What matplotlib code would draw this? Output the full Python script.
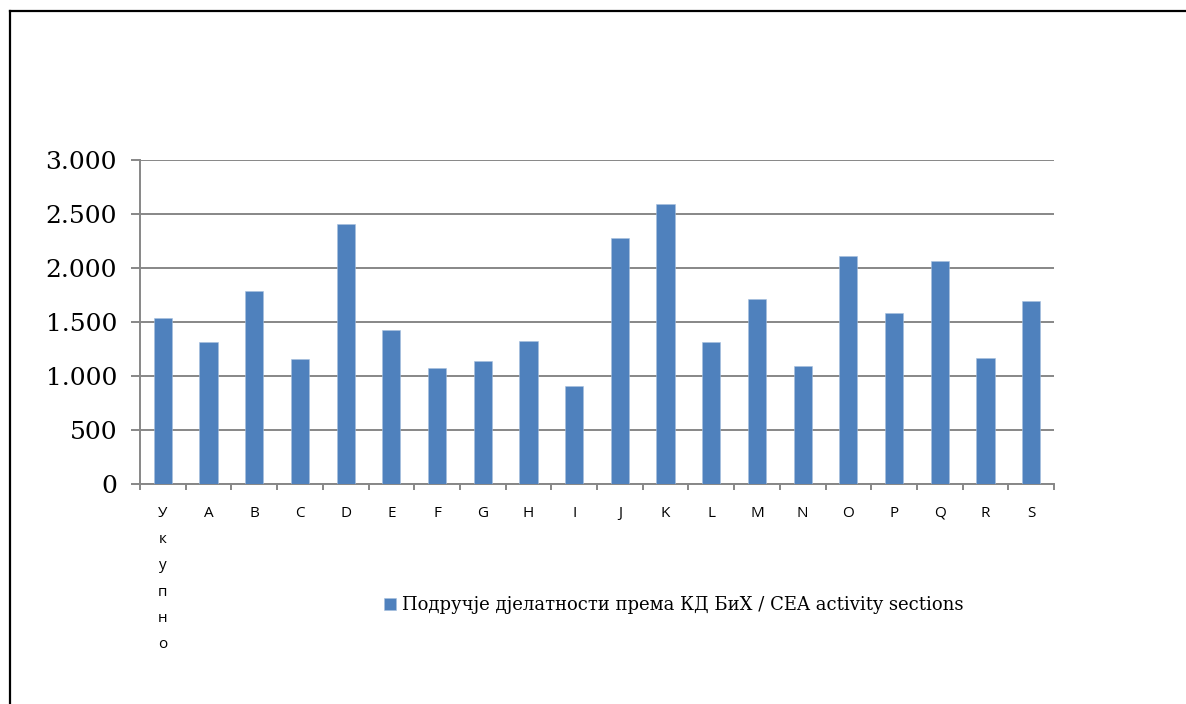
import matplotlib
matplotlib.use("Agg")
import matplotlib.pyplot as plt
from matplotlib.lines import Line2D
import numpy as np

categories = ["У\nк\nу\nп\nн\nо", "A", "B", "C", "D", "E", "F", "G", "H", "I",
              "J", "K", "L", "M", "N", "O", "P", "Q", "R", "S"]
values = [1540, 1311, 1791, 1156, 2406, 1429, 1073, 1135, 1323, 912,
          2279, 2594, 1311, 1713, 1088, 2112, 1587, 2066, 1163, 1698]
y_ticks = [0, 500, 1000, 1500, 2000, 2500, 3000]
y_tick_labels = ["0", "500", "1.000", "1.500", "2.000", "2.500", "3.000"]
series_name = "Подручје дјелатности према КД БиХ / CEA activity sections"

W, H = 1186, 704
fig = plt.figure(figsize=(W / 100, H / 100), dpi=100)
fig.patch.set_facecolor("white")
ax = fig.add_axes([140 / W, 1 - 484 / H, (1054 - 140) / W, (484 - 160) / H])

x = np.arange(len(categories))
bar_color = "#4F81BD"
ax.bar(x, values, width=0.4, color=bar_color, edgecolor="#A7C0DE", linewidth=0.4,
       label=series_name, zorder=3)

grid_color = "#878787"
ax.set_ylim(0, 3000)
ax.set_xlim(-0.5, len(categories) - 0.5)
ax.set_yticks(y_ticks)
ax.set_yticklabels(y_tick_labels, family="DejaVu Serif", fontsize=18)
ax.yaxis.grid(True, color=grid_color, linewidth=1.4, zorder=0)
ax.tick_params(axis="y", length=6.5, width=1.4, color=grid_color, pad=10)

ax.set_xticks(x)
ax.set_xticklabels(categories, family="Open Sans", fontsize=11, linespacing=2.03)
ax.set_xticks(np.arange(-0.5, len(categories), 1.0), minor=True)
ax.tick_params(axis="x", which="major", length=0, pad=15.5)
ax.tick_params(axis="x", which="minor", length=4, width=1.4, color=grid_color)

for s in ["top", "right"]:
    ax.spines[s].set_visible(False)
for s in ["left", "bottom"]:
    ax.spines[s].set_color(grid_color)
    ax.spines[s].set_linewidth(1.4)

leg = fig.legend(loc="center left", bbox_to_anchor=(368 / W, 1 - 605 / H),
                 frameon=False, handlelength=0.65, handleheight=0.65,
                 handletextpad=0.35, prop={"family": "DejaVu Serif", "size": 13})

# outer frame (top and left edges)
fig.add_artist(Line2D([10 / W, 1.0], [1 - 11 / H, 1 - 11 / H], color="black",
                      linewidth=1.6, transform=fig.transFigure))
fig.add_artist(Line2D([10 / W, 10 / W], [1 - 11 / H, 0.0], color="black",
                      linewidth=1.6, transform=fig.transFigure))

fig.savefig("out.png", dpi=100)
